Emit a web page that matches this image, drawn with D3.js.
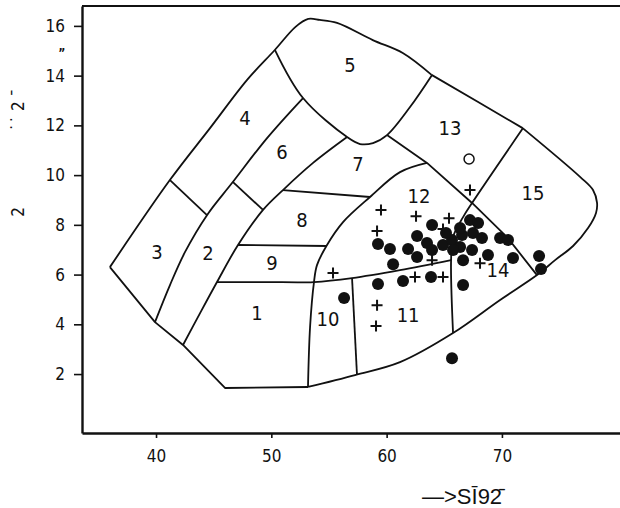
<!DOCTYPE html>
<html>
<head>
<meta charset="utf-8">
<script src="https://cdn.jsdelivr.net/npm/d3@7"></script>
<style>
  body { margin: 0; background: #fff; }
  text { font-family: 'Liberation Sans Narrow', 'DejaVu Sans Condensed', sans-serif; fill: #111; }
</style>
</head>
<body>
<svg id="chart" width="620" height="508"></svg>
<script>
// axis ticks
var xTicks = [40, 50, 60, 70];
var yTicks = [2, 4, 6, 8, 10, 12, 14, 16];

// field boundaries, [SiO2, alkali]
var upperEdge = [[36.0, 6.30], [41.2, 9.80], [44.7, 11.9], [47.9, 13.83], [50.3, 15.03], [52.1, 15.96], [53.2, 16.28], [54.2, 16.24], [55.7, 16.12], [58.8, 15.43], [61.4, 14.91], [63.9, 14.03]];
var rightEdge = [[63.9, 14.03], [67.9, 12.95], [71.8, 11.89]];
var roundEdge = [[71.8, 11.89], [76.8, 9.92], [77.9, 9.40], [78.25, 8.88], [78.16, 8.48], [77.47, 7.87], [76.17, 7.15], [74.61, 6.58], [73.04, 5.98], [69.84, 4.98], [65.76, 3.65], [61.16, 2.48], [57.26, 1.96], [53.18, 1.48]];
var bottomEdge = [[53.18, 1.48], [45.98, 1.44], [42.34, 3.17], [39.91, 4.09], [36.0, 6.30]];
var lineA = [[39.91, 4.09], [41.21, 5.58], [42.52, 6.91], [44.42, 8.39], [46.59, 9.68], [49.63, 11.49], [52.75, 13.10]];
var lineB = [[42.34, 3.17], [43.82, 4.45], [45.29, 5.70], [47.11, 7.19], [49.28, 8.60], [51.01, 9.40], [53.62, 10.49], [56.57, 11.53]];
var line5 = [[50.32, 15.03], [52.75, 13.10], [56.57, 11.53], [57.69, 11.25], [58.82, 11.29], [60.03, 11.61], [62.03, 12.74], [63.94, 14.03]];
var lineC = [[60.03, 11.61], [63.50, 10.49], [67.41, 8.88], [70.44, 7.51], [73.04, 5.98]];
var lineD = [[63.50, 10.49], [61.16, 10.12], [58.56, 9.12], [56.22, 8.11], [54.83, 7.19], [53.96, 6.38], [53.70, 5.70], [53.36, 3.89], [53.18, 1.48]];
var lineE = [[71.83, 11.89], [67.41, 8.88], [66.63, 8.31], [65.76, 7.51], [65.59, 6.58], [65.76, 3.65]];
var lowerMid = [[45.29, 5.70], [49.5, 5.70], [53.70, 5.70], [57.00, 5.86], [61.16, 6.18], [65.59, 6.58]];
var sep34 = [[41.21, 9.80], [44.42, 8.39]];
var sep26 = [[46.68, 9.72], [49.28, 8.60]];
var sep78 = [[51.01, 9.40], [58.56, 9.12]];
var sep89 = [[47.11, 7.19], [54.83, 7.15]];
var sep1011 = [[57.00, 5.86], [57.43, 1.96]];

// field numbers and where they sit
var fieldNames = ["1", "2", "3", "4", "5", "6", "7", "8", "9", "10", "11", "12", "13", "14", "15"];
var fieldSiO2 = [48.76, 44.51, 40.09, 47.72, 56.83, 50.93, 57.52, 52.66, 50.06, 54.92, 61.86, 62.81, 65.50, 69.66, 72.70];
var fieldAlk = [4.45, 6.87, 6.91, 12.30, 14.43, 10.93, 10.45, 8.19, 6.46, 4.21, 4.37, 9.16, 11.89, 6.18, 9.28];

// samples
var dots = [[59.25, 7.23], [60.29, 7.03], [60.56, 6.42], [61.86, 7.03], [62.64, 6.71], [62.64, 7.55], [63.50, 7.27], [63.94, 7.99],
  [63.94, 6.99], [64.89, 7.19], [65.67, 7.39], [66.37, 7.11], [66.63, 6.58], [67.23, 8.19], [67.93, 8.07], [67.49, 7.67],
  [68.27, 7.47], [67.41, 6.99], [66.54, 7.59], [68.79, 6.79], [69.84, 7.47], [70.53, 7.39], [70.96, 6.67], [73.22, 6.75],
  [73.39, 6.22], [59.25, 5.62], [61.42, 5.74], [63.85, 5.90], [66.63, 5.58], [56.31, 5.06], [65.67, 2.64], [65.76, 6.99],
  [66.37, 7.87], [65.15, 7.67]];
var crosses = [[59.51, 8.60], [59.17, 7.75], [62.55, 8.35], [65.41, 8.27], [64.89, 7.83], [67.23, 9.40], [63.94, 6.58],
  [62.46, 5.90], [64.89, 5.90], [55.35, 6.06], [59.17, 4.77], [59.08, 3.93], [68.10, 6.46]];
var rings = [[67.15, 10.65]];

var svg = d3.select("#chart");

var x = d3.scaleLinear().domain([33.58, 80.24]).range([82, 620]);
var y = d3.scaleLinear().domain([-0.37, 16.8]).range([433, 6]);

var straight = d3.line().x(function(d) { return x(d[0]); }).y(function(d) { return y(d[1]); });
var smooth = d3.line().x(function(d) { return x(d[0]); }).y(function(d) { return y(d[1]); }).curve(d3.curveCatmullRom.alpha(0.5));

var g = svg.append("g").attr("fill", "none").attr("stroke", "#111").attr("stroke-width", 1.8).attr("stroke-linejoin", "round");
[upperEdge, roundEdge, lineA, lineB, line5, lineD, lineE, lowerMid].forEach(function(l) {
  g.append("path").attr("d", smooth(l));
});
[rightEdge, bottomEdge, lineC, sep34, sep26, sep78, sep89, sep1011].forEach(function(l) {
  g.append("path").attr("d", straight(l));
});

// frame
svg.append("line").attr("x1", x(33.58)).attr("x2", x(80.24)).attr("y1", y(16.8)).attr("y2", y(16.8))
  .attr("stroke", "#111").attr("stroke-width", 2.2);

var yAxis = svg.append("g").attr("transform", "translate(" + x(33.58) + ",0)")
  .call(d3.axisLeft(y).tickValues(yTicks).tickSize(8).tickSizeOuter(0).tickPadding(9));
var xAxis = svg.append("g").attr("transform", "translate(0," + y(-0.37) + ")")
  .call(d3.axisBottom(x).tickValues(xTicks).tickSize(5).tickSizeOuter(0).tickPadding(12));
[yAxis, xAxis].forEach(function(a) {
  a.select(".domain").attr("stroke", "#111").attr("stroke-width", 2.4);
  a.selectAll(".tick line").attr("stroke", "#111").attr("stroke-width", 1.6);
  a.selectAll(".tick text").attr("font-size", 17).attr("fill", "#111")
    .style("font-family", "'Liberation Sans Narrow', 'DejaVu Sans Condensed', sans-serif");
});

// field numbers
svg.append("g").selectAll("text").data(fieldNames).enter().append("text")
  .attr("x", function(d, i) { return x(fieldSiO2[i]); })
  .attr("y", function(d, i) { return y(fieldAlk[i]); })
  .attr("text-anchor", "middle").attr("dominant-baseline", "central")
  .attr("font-size", 20)
  .text(function(d) { return d; });

// samples
svg.append("g").selectAll("circle").data(dots).enter().append("circle")
  .attr("cx", function(d) { return x(d[0]); }).attr("cy", function(d) { return y(d[1]); })
  .attr("r", 6).attr("fill", "#111");
svg.append("g").selectAll("path").data(crosses).enter().append("path")
  .attr("d", function(d) {
    var cx = x(d[0]), cy = y(d[1]);
    return "M" + (cx - 5.5) + "," + cy + "H" + (cx + 5.5) + "M" + cx + "," + (cy - 5.5) + "V" + (cy + 5.5);
  })
  .attr("stroke", "#111").attr("stroke-width", 2);
svg.append("g").selectAll("circle").data(rings).enter().append("circle")
  .attr("cx", function(d) { return x(d[0]); }).attr("cy", function(d) { return y(d[1]); })
  .attr("r", 5).attr("fill", "none").attr("stroke", "#111").attr("stroke-width", 1.5);

// axis titles, as they came out of the scan
svg.append("text").attr("transform", "translate(24,110) rotate(-90)")
  .attr("text-anchor", "middle").attr("font-size", 17).text("˙˙ 2 ˉ");
svg.append("text").attr("transform", "translate(24,212) rotate(-90)")
  .attr("text-anchor", "middle").attr("font-size", 17).text("2");
svg.append("text").attr("x", 62).attr("y", 50).attr("text-anchor", "middle")
  .attr("font-size", 12).attr("font-weight", "bold").text("„");
svg.append("text").attr("x", 422).attr("y", 504)
  .style("font-family", "'Liberation Sans', Arial, sans-serif")
  .attr("font-size", 22).text("—>SĪ92\u0304");
</script>
</body>
</html>
